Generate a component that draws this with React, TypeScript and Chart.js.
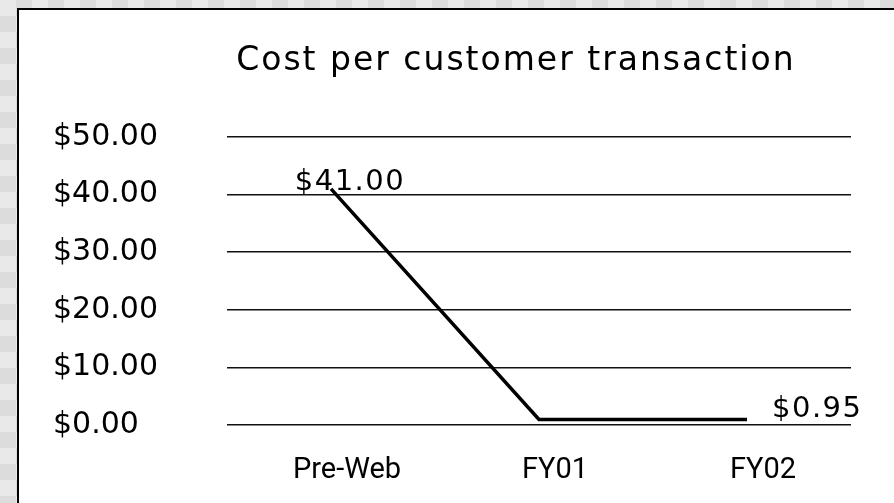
import React, { useEffect, useRef } from "react";
import { Chart, registerables } from "chart.js";

Chart.register(...registerables);

const chartTitle = "Cost per customer transaction";
const categories = ["Pre-Web", "FY01", "FY02"];
const costValues = [41.0, 0.95, 0.95];
const labelledPoints = [0, 2];
const yTickValues = [0, 10, 20, 30, 40, 50];

const fmt = (v: number) => "$" + v.toFixed(2);

const titlePlugin = {
  id: "customTitle",
  afterDraw(chart: any) {
    const ctx = chart.ctx;
    const area = chart.chartArea;
    ctx.save();
    ctx.font = "33px 'DejaVu Sans'";
    (ctx as any).letterSpacing = "2px";
    ctx.fillStyle = "#000";
    ctx.textAlign = "center";
    ctx.textBaseline = "middle";
    ctx.fillText(chartTitle, area.left + area.width * 0.463, area.top - 76);
    ctx.restore();
  },
};

const valueLabelPlugin = {
  id: "valueLabels",
  afterDatasetsDraw(chart: any) {
    const ctx = chart.ctx;
    const meta = chart.getDatasetMeta(0);
    ctx.save();
    ctx.font = "29px 'DejaVu Sans'";
    (ctx as any).letterSpacing = "1.5px";
    ctx.fillStyle = "#000";
    labelledPoints.forEach((i) => {
      const pt = meta.data[i];
      if (!pt) return;
      const text = fmt(costValues[i]);
      if (i === 0) {
        ctx.textAlign = "center";
        ctx.textBaseline = "alphabetic";
        ctx.fillText(text, pt.x + 19, pt.y + 1);
      } else {
        ctx.textAlign = "left";
        ctx.textBaseline = "middle";
        ctx.fillText(text, pt.x + 25, pt.y - 10);
      }
    });
    ctx.restore();
  },
};

export default function App() {
  const ref = useRef<HTMLCanvasElement | null>(null);

  useEffect(() => {
    if (!ref.current) return;
    const chart = new Chart(ref.current, {
      type: "line",
      data: {
        labels: categories,
        datasets: [
          {
            data: costValues,
            borderColor: "#000",
            borderWidth: 3.5,
            pointRadius: 0,
            tension: 0,
            fill: false,
          },
        ],
      },
      options: {
        responsive: false,
        animation: false,
        layout: { padding: { left: 53, right: 43, top: 137, bottom: 15 } },
        plugins: {
          legend: { display: false },
          title: { display: false },
          tooltip: { enabled: false },
        },
        scales: {
          x: {
            offset: true,
            afterFit(scale: any) {
              scale.height = 63;
            },
            grid: { display: false, drawTicks: false },
            border: { display: false },
            ticks: {
              color: "#000",
              font: { family: "Roboto", size: 29 },
              padding: 28,
              labelOffset: 16,
              maxRotation: 0,
            },
          },
          y: {
            min: 0,
            max: 50,
            afterFit(scale: any) {
              scale.width = 174;
            },
            afterBuildTicks(scale: any) {
              scale.ticks = yTickValues.map((v) => ({ value: v }));
            },
            grid: { color: "#111", lineWidth: 1.5, drawTicks: false },
            border: { display: false },
            ticks: {
              color: "#000",
              crossAlign: "far",
              font: { family: "'DejaVu Sans'", size: 30 },
              callback: (v: any) => fmt(Number(v)),
            },
          },
        },
      },
      plugins: [titlePlugin, valueLabelPlugin],
    });
    return () => chart.destroy();
  }, []);

  return (
    <div
      style={{
        position: "fixed",
        left: 0,
        top: 0,
        width: 894,
        height: 503,
        overflow: "hidden",
        background:
          "repeating-conic-gradient(#dcdcdc 0% 25%, #e9e9e9 0% 50%) 0 0 / 32px 32px",
      }}
    >
      <div
        style={{
          position: "absolute",
          left: 17,
          top: 8,
          width: 900,
          height: 520,
          background: "#fff",
          borderLeft: "2px solid #000",
          borderTop: "2px solid #000",
        }}
      />
      <canvas
        ref={ref}
        width={894}
        height={503}
        style={{ position: "absolute", left: 0, top: 0 }}
      />
    </div>
  );
}
